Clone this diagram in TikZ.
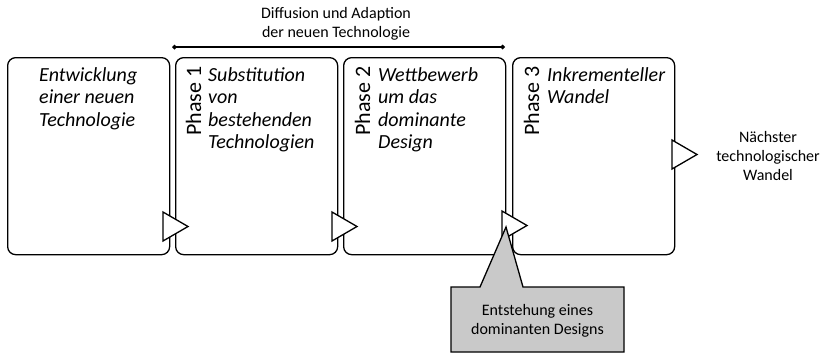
\documentclass[tikz,border=0pt]{standalone}
\usepackage{fontspec}
\setmainfont{Carlito}
\usetikzlibrary{arrows.meta}

% multi-line texts whose baseline is that of their first line
\newcommand{\leftlines}[1]{\begin{tabular}[t]{@{}l@{}}#1\end{tabular}}
\newcommand{\midlines}[1]{\begin{tabular}[t]{@{}c@{}}#1\end{tabular}}

\begin{document}
\begin{tikzpicture}[x=1pt,y=-1pt,
  phasebox/.style={draw, line width=1.3pt, rounded corners=8pt, fill=white,
    minimum width=162pt, minimum height=197pt, inner sep=0pt, anchor=north west},
  boxtext/.style={font=\fontsize{20}{22.5}\selectfont\itshape,
    inner sep=0pt, anchor=base west},
  phaselabel/.style={font=\fontsize{22}{26}\selectfont, rotate=90,
    inner sep=0pt, anchor=base west},
  note/.style={font=\fontsize{16}{19}\selectfont, inner sep=0pt, anchor=base},
  flowtip/.style={draw, line width=1.3pt, fill=white, line join=miter},
  callout/.style={draw, line width=1.3pt, fill=black!21, line join=miter},
  span/.style={line width=1.3pt, {Diamond[length=5pt,width=5pt]}-{Diamond[length=5pt,width=5pt]}}
]
\useasboundingbox (0,0) rectangle (821,354);

% four stages
\node[phasebox] (b1) at (7,57) {};
\node[phasebox] (b2) at (175,57) {};
\node[phasebox] (b3) at (343,57) {};
\node[phasebox] (b4) at (512,57) {};

% stage descriptions
\node[boxtext] (t1) at (39,81) {\leftlines{Entwicklung\\einer neuen\\Technologie}};
\node[boxtext] (t2) at (208,81) {\leftlines{Substitution\\von\\bestehenden\\Technologien}};
\node[boxtext] (t3) at (378,81) {\leftlines{Wettbewerb\\um das\\dominante\\Design}};
\node[boxtext] (t4) at (547,81) {\leftlines{Inkrementeller\\Wandel}};

% vertical phase labels
\node[phaselabel] (p1) at (201,136) {Phase 1};
\node[phaselabel] (p2) at (370,136) {Phase 2};
\node[phaselabel] (p3) at (539,136) {Phase 3};

% transition markers between the stages
\draw[flowtip] (163,212) -- (188,226.5) -- (163,241) -- cycle;
\draw[flowtip] (332,212) -- (357,226.5) -- (332,241) -- cycle;
\draw[flowtip] (502,211) -- (527,225.5) -- (502,240) -- cycle;
\draw[flowtip] (672,140) -- (697,154.5) -- (672,169) -- cycle;

% span of diffusion and adaption
\coordinate (s1) at (172,47);
\coordinate (s2) at (505,47);
\draw[span] (s1) -- (s2);
\node[note] (diff) at (336,18) {\midlines{Diffusion und Adaption\\der neuen Technologie}};

% next technological change
\node[note] (next) at (768,142) {\midlines{Nächster\\technologischer\\Wandel}};

% emergence of a dominant design
\draw[callout] (451,287) -- (480,287) -- (506,227) -- (523,287) -- (624,287)
  -- (624,352) -- (451,352) -- cycle;
\node[note] (dom) at (537.5,315) {\midlines{Entstehung eines\\dominanten Designs}};
\end{tikzpicture}
\end{document}
